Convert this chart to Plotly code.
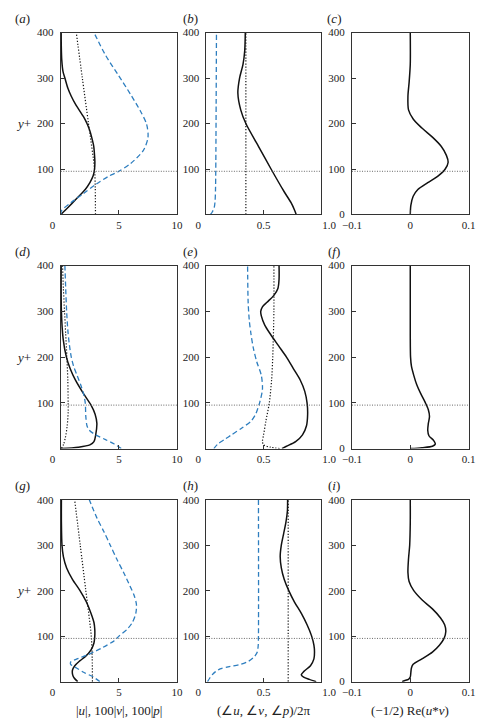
import plotly.graph_objects as go

W, H = 494, 725
Y_CRIT = 95  # horizontal dotted reference line (y+)

BLUE = "#2e7ebf"
BLACK = "#111111"

# ---------------- Row 1 -----------------
# (a) |u| (solid), 100|v| (dashed blue), 100|p| (dotted)
a_y_u = [0, 10, 25, 40, 55, 70, 85, 100, 115, 130, 150, 170, 185, 200, 215, 242, 260, 278, 300, 314, 340, 370, 400]
a_u = [0, 0.4, 0.98, 1.55, 2.1, 2.5, 2.78, 2.9, 2.93, 2.9, 2.83, 2.65, 2.48, 2.25, 1.95, 1.27, 0.9, 0.6, 0.35, 0.19, 0.08, 0.04, 0.03]
a_y_v = [0, 8, 26, 46, 66, 84, 94, 112, 141, 170, 199, 228, 264, 307, 350, 400]
a_v = [0, 0.05, 0.87, 1.95, 3.0, 4.1, 4.93, 6.0, 7.1, 7.5, 7.37, 6.83, 6.0, 4.93, 3.85, 2.85]
a_y_p = [0, 60, 100, 200, 300, 400]
a_p = [2.98, 2.96, 2.9, 2.38, 1.85, 1.33]

# (b) phases / 2pi
b_y_u = [0, 10, 26, 50, 100, 150, 200, 230, 267, 300, 330, 360, 400]
b_u = [0.785, 0.77, 0.74, 0.68, 0.565, 0.455, 0.345, 0.3, 0.275, 0.29, 0.32, 0.335, 0.34]
b_y_v = [0, 5, 15, 30, 60, 100, 400]
b_v = [0.035, 0.05, 0.068, 0.076, 0.08, 0.082, 0.088]
b_y_p = [0, 100, 200, 300, 400]
b_p = [0.345, 0.345, 0.345, 0.345, 0.345]

# (c) (-1/2) Re(u* v)
c_y = [0, 20, 40, 55, 70, 85, 100, 115, 130, 150, 170, 190, 210, 230, 260, 290, 330, 400]
c_r = [0, 0.001, 0.005, 0.013, 0.03, 0.048, 0.06, 0.065, 0.062, 0.053, 0.038, 0.02, 0.005, -0.003, -0.004, -0.002, 0, 0]

# ---------------- Row 2 -----------------
d_y_u = [0, 3, 8, 15, 30, 55, 75, 95, 120, 150, 175, 200, 240, 300, 400]
d_u = [0, 1.5, 2.5, 2.85, 3.0, 3.1, 2.95, 2.6, 1.95, 1.25, 0.8, 0.48, 0.2, 0.05, 0.03]
d_y_v = [0, 10, 20, 30, 40, 50, 70, 100, 120, 140, 160, 180, 200, 230, 260, 300, 350, 400]
d_v = [5.2, 4.6, 3.8, 3.0, 2.45, 2.25, 2.15, 2.1, 1.95, 1.7, 1.4, 1.1, 0.9, 0.72, 0.6, 0.5, 0.42, 0.35]
d_y_p = [0, 10, 25, 50, 80, 100, 150, 200, 250, 300, 350, 400]
d_p = [0.05, 0.25, 0.4, 0.55, 0.63, 0.63, 0.6, 0.52, 0.42, 0.32, 0.22, 0.15]

e_y_u = [0, 5, 15, 30, 50, 75, 100, 125, 150, 175, 200, 225, 250, 270, 290, 300, 310, 320, 335, 350, 370, 400]
e_u = [0.66, 0.7, 0.78, 0.84, 0.875, 0.885, 0.88, 0.86, 0.82, 0.76, 0.7, 0.63, 0.56, 0.51, 0.48, 0.475, 0.49, 0.53, 0.59, 0.625, 0.635, 0.635]
e_y_v = [0, 10, 20, 30, 45, 60, 75, 100, 130, 160, 190, 220, 250, 280, 320, 400]
e_v = [0.065, 0.1, 0.16, 0.22, 0.31, 0.39, 0.43, 0.465, 0.49, 0.48, 0.44, 0.41, 0.39, 0.375, 0.365, 0.36]
e_y_p = [0, 3, 8, 15, 30, 60, 100, 150, 200, 300, 400]
e_p = [0.64, 0.56, 0.5, 0.49, 0.5, 0.52, 0.55, 0.57, 0.58, 0.59, 0.59]

f_y = [0, 2, 5, 10, 18, 28, 40, 55, 70, 85, 100, 120, 140, 160, 180, 200, 250, 400]
f_r = [0, 0.02, 0.038, 0.043, 0.04, 0.032, 0.03, 0.031, 0.033, 0.031, 0.026, 0.018, 0.011, 0.006, 0.002, 0.0005, 0, 0]

# ---------------- Row 3 -----------------
g_y_u = [0, 8, 15, 25, 35, 45, 55, 70, 85, 100, 115, 130, 150, 175, 200, 225, 250, 275, 300, 350, 400]
g_u = [1.45, 1.15, 1.02, 1.0, 1.2, 1.6, 2.1, 2.6, 2.85, 2.92, 2.92, 2.85, 2.6, 2.2, 1.65, 1.0, 0.5, 0.22, 0.1, 0.05, 0.05]
g_y_v = [0, 10, 20, 30, 38, 43, 50, 60, 75, 90, 100, 115, 130, 150, 170, 190, 210, 240, 270, 300, 330, 360, 400]
g_v = [3.35, 2.8, 2.0, 1.35, 0.85, 0.85, 1.4, 2.4, 3.6, 4.6, 5.0, 5.7, 6.15, 6.45, 6.5, 6.3, 5.95, 5.4, 4.8, 4.25, 3.7, 3.1, 2.45]
g_y_p = [0, 50, 100, 200, 300, 400]
g_p = [2.72, 2.7, 2.62, 2.15, 1.67, 1.19]

h_y_u = [0, 5, 10, 15, 22, 35, 50, 65, 80, 100, 125, 150, 175, 200, 225, 250, 275, 300, 325, 350, 375, 400]
h_u = [0.96, 0.9, 0.85, 0.83, 0.85, 0.91, 0.94, 0.945, 0.94, 0.92, 0.88, 0.83, 0.77, 0.72, 0.68, 0.655, 0.645, 0.655, 0.675, 0.695, 0.708, 0.71]
h_y_v = [0, 8, 15, 22, 28, 33, 38, 45, 55, 65, 80, 100, 400]
h_v = [0.01, 0.03, 0.05, 0.08, 0.12, 0.2, 0.3, 0.37, 0.42, 0.445, 0.453, 0.455, 0.455]
h_y_p = [0, 100, 200, 300, 400]
h_p = [0.715, 0.715, 0.715, 0.715, 0.715]

i_y = [0, 2, 5, 10, 20, 30, 38, 50, 65, 80, 95, 110, 125, 140, 160, 180, 200, 220, 240, 270, 300, 350, 400]
i_r = [-0.014, -0.01, -0.003, 0.0, 0.001, 0.002, 0.005, 0.02, 0.038, 0.05, 0.058, 0.061, 0.059, 0.052, 0.038, 0.02, 0.006, -0.002, -0.004, -0.003, -0.001, 0, 0]

# tick definitions
NB = "\u00a0"
tick_amp = ([0, 5, 10], ["0" + NB * 6, "5", "10"])
tick_phase = ([0, 0.5, 1.0], ["0" + NB * 6, "0.5", NB * 6 + "1.0"])
tick_rs = ([-0.1, 0, 0.1], ["\u22120.1", "0", "0.1"])
range_amp, range_phase, range_rs = [0, 10], [0, 1], [-0.1, 0.1]
y_ticks_ab = [100, 200, 300, 400]
y_ticks_c = [0, 100, 200, 300, 400]

panel_letters = ["a", "b", "c", "d", "e", "f", "g", "h", "i"]
x_titles = ["|<i>u</i>|, 100|<i>v</i>|, 100|<i>p</i>|",
            "(\u2220<i>u</i>, \u2220<i>v</i>, \u2220<i>p</i>)/2\u03c0",
            "(\u22121/2) Re(<i>u</i>*<i>v</i>)"]

# layout in pixels
col_px = [(52.7, 175.7), (206.7, 327.7), (360.7, 484.0)]
row_px = [(27, 212), (264, 450), (502, 687)]
label_x_px = [12, 189.5, 342]

panels = [
    [  # row 1
        [(a_u, a_y_u, "solid"), (a_v, a_y_v, "dash"), (a_p, a_y_p, "dot")],
        [(b_u, b_y_u, "solid"), (b_v, b_y_v, "dash"), (b_p, b_y_p, "dot")],
        [(c_r, c_y, "solid")],
    ],
    [
        [(d_u, d_y_u, "solid"), (d_v, d_y_v, "dash"), (d_p, d_y_p, "dot")],
        [(e_u, e_y_u, "solid"), (e_v, e_y_v, "dash"), (e_p, e_y_p, "dot")],
        [(f_r, f_y, "solid")],
    ],
    [
        [(g_u, g_y_u, "solid"), (g_v, g_y_v, "dash"), (g_p, g_y_p, "dot")],
        [(h_u, h_y_u, "solid"), (h_v, h_y_v, "dash"), (h_p, h_y_p, "dot")],
        [(i_r, i_y, "solid")],
    ],
]

styles = {
    "solid": dict(color=BLACK, width=1.5, dash="solid"),
    "dash": dict(color=BLUE, width=1.3, dash="5px,3px"),
    "dot": dict(color=BLACK, width=1.2, dash="1.2px,1.8px"),
}

fig = go.Figure()
TICKFONT = dict(family="Liberation Serif", size=11, color="#222")
shapes = []
annotations = []

k = 0
for r in range(3):
    for c in range(3):
        k += 1
        xa = "x" if k == 1 else f"x{k}"
        ya = "y" if k == 1 else f"y{k}"
        for xs, ys, st in panels[r][c]:
            fig.add_trace(go.Scatter(x=xs, y=ys, mode="lines", xaxis=xa, yaxis=ya,
                                     line=dict(shape="spline", smoothing=0.8, **styles[st]),
                                     showlegend=False, hoverinfo="skip"))
        x0, x1 = col_px[c]
        y0, y1 = row_px[r]
        tv, tt = [tick_amp, tick_phase, tick_rs][c]
        rng = [range_amp, range_phase, range_rs][c]
        xkey = "xaxis" if k == 1 else f"xaxis{k}"
        ykey = "yaxis" if k == 1 else f"yaxis{k}"
        common = dict(showline=True, linecolor="#333", linewidth=1, mirror=True,
                      ticks="inside", ticklen=4, tickwidth=1, tickcolor="#333",
                      showgrid=False, zeroline=False, tickfont=TICKFONT)
        fig.update_layout(**{
            xkey: dict(domain=[x0 / W, x1 / W], range=rng, anchor=ya,
                       tickmode="array", tickvals=tv, ticktext=tt, **common),
            ykey: dict(domain=[1 - y1 / H, 1 - y0 / H], range=[0, 400], anchor=xa,
                       tickmode="array", tickvals=(y_ticks_c if c == 2 else y_ticks_ab),
                       ticklabelstandoff=4, **common),
        })
        # horizontal dotted reference line at y+ = Y_CRIT
        shapes.append(dict(type="line", xref=f"{xa} domain", yref=ya,
                           x0=0, x1=1, y0=Y_CRIT, y1=Y_CRIT,
                           line=dict(color="#666", width=1, dash="1px,1.5px")))
        # panel label
        annotations.append(dict(text=f"(<i>{panel_letters[k-1]}</i>)", xref="paper", yref="paper",
                                x=label_x_px[c] / W, y=1 - (y0 - 14) / H,
                                showarrow=False, xanchor="center", yanchor="middle",
                                font=dict(family="Liberation Serif", size=13, color="#222")))
        if c == 0:
            annotations.append(dict(text="<i>y</i>+", xref="paper", yref=ya,
                                    x=13 / W, y=200, showarrow=False,
                                    xanchor="center", yanchor="middle",
                                    font=dict(family="Liberation Serif", size=13, color="#222")))

for c in range(3):
    x0, x1 = col_px[c]
    annotations.append(dict(text=x_titles[c], xref="paper", yref="paper",
                            x=(x0 + x1) / 2 / W, y=1 - 716 / H, showarrow=False,
                            xanchor="center", yanchor="middle",
                            font=dict(family="Liberation Serif", size=13, color="#222")))

fig.update_layout(width=W, height=H, margin=dict(l=0, r=0, t=0, b=0),
                  paper_bgcolor="white", plot_bgcolor="white",
                  shapes=shapes, annotations=annotations)

fig.write_html("out.html")
